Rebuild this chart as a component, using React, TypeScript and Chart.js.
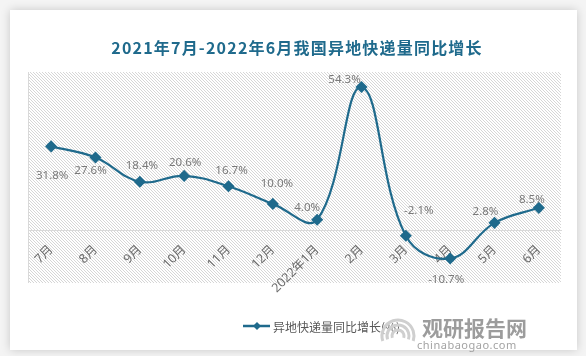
import React, { useEffect, useRef } from "react";
import Chart from "chart.js/auto";

const categories = ["7月", "8月", "9月", "10月", "11月", "12月", "2022年1月", "2月", "3月", "4月", "5月", "6月"];
const growth = [31.8, 27.6, 18.4, 20.6, 16.7, 10.0, 4.0, 54.3, -2.1, -10.7, 2.8, 8.5];
const valueLabels = ["31.8%", "27.6%", "18.4%", "20.6%", "16.7%", "10.0%", "4.0%", "54.3%", "-2.1%", "-10.7%", "2.8%", "8.5%"];
const seriesName = "异地快递量同比增长(%)";
const titleText = "2021年7月-2022年6月我国异地快递量同比增长";

// label placement offsets (style only)
const labelOffsets: [number, number][] = [
  [1, 29], [-5, 13], [2, -16], [1, -13], [3, -15], [4, -20],
  [-10, -12], [-17, -7], [13, -25], [-4, 21], [-9, -11], [-7, -8],
];

const LINE = "#1f6a8c";
const FONT = "'Noto Sans', 'Noto Sans CJK SC', sans-serif";

function makePattern(ctx: CanvasRenderingContext2D) {
  const n = 3;
  const c = document.createElement("canvas");
  c.width = n;
  c.height = n;
  const p = c.getContext("2d")!;
  p.fillStyle = "#ffffff";
  p.fillRect(0, 0, n, n);
  p.fillStyle = "#d6d6d6";
  for (let i = 0; i < n; i++) p.fillRect(i, i, 1, 1);
  return ctx.createPattern(c, "repeat");
}

const decorPlugin = {
  id: "decor",
  beforeDraw(chart: any) {
    const ctx: CanvasRenderingContext2D = chart.ctx;
    const W = chart.width, H = chart.height;
    const ca = chart.chartArea;
    ctx.save();
    ctx.fillStyle = "#f4f4f4";
    ctx.fillRect(0, 0, W, H);
    // card with shadow
    ctx.shadowColor = "rgba(0,0,0,0.18)";
    ctx.shadowBlur = 9;
    ctx.fillStyle = "#ffffff";
    ctx.fillRect(10, 10, 567, 340);
    ctx.shadowBlur = 0;
    ctx.shadowColor = "transparent";
    // hatched plot area
    const pat = makePattern(ctx);
    if (pat) ctx.fillStyle = pat;
    ctx.fillRect(28, ca.top, ca.right - 28, 283 - ca.top);
    ctx.strokeStyle = "#d9d9d9";
    ctx.lineWidth = 1;
    ctx.beginPath();
    ctx.moveTo(28.5, ca.top);
    ctx.lineTo(28.5, 283);
    ctx.stroke();
    // title
    ctx.fillStyle = "#1f6a8c";
    ctx.font = "bold 16px 'Noto Sans CJK SC', sans-serif";
    (ctx as any).letterSpacing = "1.2px";
    ctx.textAlign = "center";
    ctx.textBaseline = "middle";
    ctx.fillText(titleText, 297, 48);
    (ctx as any).letterSpacing = "0px";
    // legend
    ctx.strokeStyle = LINE;
    ctx.lineWidth = 2.5;
    ctx.beginPath();
    ctx.moveTo(243, 326);
    ctx.lineTo(270, 326);
    ctx.stroke();
    ctx.fillStyle = LINE;
    ctx.beginPath();
    ctx.moveTo(257, 322);
    ctx.lineTo(261, 326);
    ctx.lineTo(257, 330);
    ctx.lineTo(253, 326);
    ctx.closePath();
    ctx.fill();
    ctx.fillStyle = "#595959";
    ctx.font = "12px 'Noto Sans CJK SC', sans-serif";
    ctx.textAlign = "left";
    ctx.fillText(seriesName, 273, 327);
    // watermark
    ctx.strokeStyle = "#cfcfcf";
    ctx.lineWidth = 3;
    for (let r = 0; r < 3; r++) {
      ctx.beginPath();
      ctx.arc(398, 336, 6 + r * 5, Math.PI * 0.9, Math.PI * 2.1);
      ctx.stroke();
    }
    ctx.fillStyle = "#9c9c9c";
    ctx.font = "bold 21px 'Noto Sans CJK SC', sans-serif";
    ctx.textAlign = "left";
    ctx.fillText("观研报告网", 422, 328);
    ctx.fillStyle = "#a3a3a3";
    ctx.font = "11px 'Noto Sans', sans-serif";
    (ctx as any).letterSpacing = "0.5px";
    ctx.fillText("chinabaogao.com", 417, 346);
    (ctx as any).letterSpacing = "0px";
    ctx.restore();
  },
  afterDatasetsDraw(chart: any) {
    const ctx: CanvasRenderingContext2D = chart.ctx;
    const meta = chart.getDatasetMeta(0);
    ctx.save();
    ctx.fillStyle = "#7a7a7a";
    ctx.font = `11.5px ${FONT}`;
    ctx.textAlign = "center";
    ctx.textBaseline = "middle";
    meta.data.forEach((pt: any, i: number) => {
      const [dx, dy] = labelOffsets[i];
      ctx.fillText(valueLabels[i], pt.x + dx, pt.y + dy);
    });
    ctx.restore();
  },
};

export default function App() {
  const ref = useRef<HTMLCanvasElement>(null);
  useEffect(() => {
    document.body.style.margin = "0";
    const chart = new Chart(ref.current!, {
      type: "line",
      data: {
        labels: categories,
        datasets: [
          {
            label: seriesName,
            data: growth,
            borderColor: LINE,
            backgroundColor: LINE,
            borderWidth: 2.2,
            tension: 0.4,
            pointStyle: "rectRot",
            pointRadius: 4.5,
            pointBackgroundColor: LINE,
            pointBorderColor: LINE,
            clip: false as any,
          },
        ],
      },
      options: {
        animation: false,
        responsive: false,
        layout: { padding: { left: 29, right: 25, top: 72, bottom: 73 } },
        plugins: { legend: { display: false }, tooltip: { enabled: false }, title: { display: false } },
        scales: {
          y: { display: false, min: -20, max: 60 },
          x: {
            type: "category",
            offset: true,
            position: { y: 0 } as any,
            grid: { display: false, drawTicks: false },
            border: { display: true, color: "#d9d9d9", width: 1 },
            ticks: {
              minRotation: 45,
              maxRotation: 45,
              autoSkip: false,
              padding: 12,
              color: "#6b6b6b",
              font: { size: 12.5, family: FONT },
            },
          },
        },
      },
      plugins: [decorPlugin],
    });
    return () => chart.destroy();
  }, []);
  return (
    <div style={{ position: "absolute", left: 0, top: 0, width: 586, height: 356 }}>
      <canvas ref={ref} width={586} height={356} style={{ width: 586, height: 356, display: "block" }} />
    </div>
  );
}
